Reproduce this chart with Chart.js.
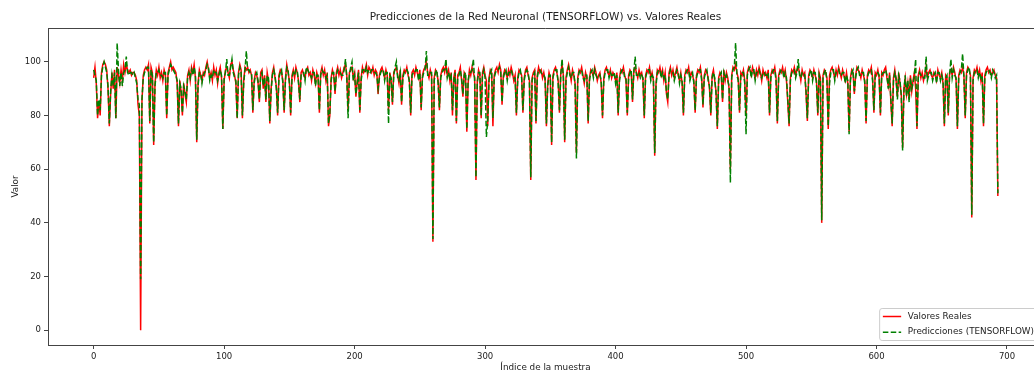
<!DOCTYPE html>
<html><head><meta charset="utf-8">
<script src="https://cdn.jsdelivr.net/npm/chart.js@4.4.1/dist/chart.umd.min.js"></script>
<style>
html,body{margin:0;padding:0;overflow:hidden;background:#fff;width:1034px;height:374px}
#wrap{position:absolute;left:0;top:0;width:1043px;height:374px}
</style>
</head><body><div id="wrap"><canvas id="c" width="1043" height="374"></canvas></div>
<script>
const titleText = "Predicciones de la Red Neuronal (TENSORFLOW) vs. Valores Reales";
const xLabel = "Índice de la muestra";
const yLabel = "Valor";
const seriesNames = ["Valores Reales", "Predicciones (TENSORFLOW)"];
const xTicks = [0, 100, 200, 300, 400, 500, 600, 700];
const yTicks = [0, 20, 40, 60, 80, 100];

const realValues = [
94,98,92,79,85,80,96,99,100,99,97,90,76,88,96,90,97,79,98,95,
92,97,93,99,96,99,97,96,97,95,96,96,95,93,84,80,0,85,95,97,
98,97,99,77,98,96,69,92,97,95,98,94,96,93,97,95,79,96,98,100,
97,98,97,96,92,76,93,89,80,92,88,85,95,97,93,98,96,99,94,70,
92,97,95,93,96,95,98,100,97,94,96,93,98,95,97,92,96,98,94,75,
93,97,98,96,94,99,100,97,95,92,79,96,99,97,79,93,98,97,98,96,
97,95,81,93,96,95,92,85,96,97,90,95,85,96,93,77,90,96,98,94,
91,80,95,97,96,93,81,94,99,96,93,80,95,97,94,98,96,93,85,96,
97,95,94,97,98,95,96,93,97,95,92,96,94,81,96,98,95,97,93,96,
76,80,94,97,95,88,96,98,95,97,94,96,98,99,95,82,96,97,98,94,
96,87,93,97,81,94,98,96,97,99,95,98,97,96,98,95,97,96,88,95,
97,98,96,94,97,95,82,96,93,84,96,97,98,95,92,97,84,95,97,96,
98,95,93,80,96,97,95,98,96,94,97,82,95,97,98,100,96,94,97,95,
33,94,97,96,93,82,95,97,98,96,99,95,97,93,96,80,94,97,77,95,
96,98,93,87,96,95,74,92,97,95,98,96,94,56,93,97,95,79,96,98,
95,93,76,94,97,96,76,95,97,98,96,99,97,84,95,97,96,94,97,95,
98,96,93,95,80,94,97,96,95,81,94,97,98,95,93,56,94,96,97,77,
95,98,96,97,94,96,93,76,92,96,94,69,95,97,98,96,93,81,96,99,
95,70,94,97,99,96,93,97,95,92,66,94,97,96,98,95,92,96,94,77,
94,97,96,95,98,96,93,95,96,92,79,94,97,98,96,95,97,94,96,95,
93,96,80,94,97,96,98,95,93,80,95,97,96,85,97,98,96,94,97,95,
96,93,79,95,97,96,98,94,96,93,65,92,97,96,98,95,97,93,96,88,
85,96,98,95,97,94,96,98,95,93,96,92,80,95,97,96,98,94,96,95,
93,81,95,97,96,98,94,83,95,97,96,94,90,80,95,97,93,89,75,94,
96,95,85,97,93,96,94,90,60,95,98,97,99,96,94,81,96,95,97,93,
80,96,98,97,95,98,96,94,97,95,98,96,93,97,95,96,94,97,80,95,
97,96,98,94,77,95,97,96,98,95,97,93,85,76,94,97,96,98,95,97,
98,96,93,97,95,96,88,78,95,97,96,94,97,95,93,80,96,94,40,95,
97,96,94,75,95,97,98,96,94,97,95,98,96,94,97,95,93,96,92,74,
94,97,96,88,95,98,97,96,94,97,95,93,77,95,97,96,98,94,81,96,
95,97,94,80,96,95,97,98,94,91,96,85,76,94,97,93,87,96,92,88,
68,90,94,88,92,86,95,89,93,96,90,75,95,97,94,96,93,95,98,94,
96,97,95,94,96,95,93,97,95,94,96,92,76,95,94,80,96,97,95,98,
96,93,75,95,97,96,98,95,79,96,98,97,95,42,94,97,96,98,95,97,
93,96,76,95,97,98,96,97,95,96,97,95,94,50
];

const predValues = [
97,95,93,80,86,82,95,98,100,98,96,91,77,89,95,91,96,79,107,97,
91,96,91,96,97,102,96,95,96,96,95,96,94,92,86,84,19,86,94,96,
97,98,98,78,97,95,70,91,96,96,97,95,95,94,96,96,80,95,97,99,
98,97,96,95,93,77,92,90,81,91,89,86,94,96,94,97,95,98,95,71,
91,96,96,92,95,96,97,99,98,93,95,94,97,96,96,93,95,97,95,75,
94,96,101,95,95,98,101,96,94,93,79,95,98,96,80,92,97,104,97,97,
96,96,82,92,95,96,93,86,95,96,91,94,86,95,94,78,89,95,97,95,
90,81,94,96,97,92,82,93,98,97,92,81,94,96,95,97,97,92,86,95,
96,96,93,98,97,96,95,94,96,96,91,95,95,82,95,97,96,96,94,95,
77,81,93,96,96,89,95,97,96,96,95,95,97,101,94,79,95,98,100,93,
95,88,92,96,82,93,97,97,96,98,96,97,96,97,97,96,96,95,90,94,
96,97,97,93,96,96,77,95,94,85,95,98,100,94,93,96,85,94,96,97,
97,96,92,81,95,96,96,97,97,93,96,83,94,96,97,104,95,95,96,96,
34,93,96,97,92,83,94,96,97,97,101,94,96,94,95,82,93,96,78,94,
95,97,94,88,95,96,75,93,96,96,97,101,93,57,92,96,96,80,95,97,
94,72,78,93,96,97,79,94,96,97,97,98,96,85,94,96,97,93,96,96,
97,95,94,94,81,93,96,97,94,82,93,96,97,96,92,57,93,95,96,78,
94,97,97,96,95,95,94,77,91,95,95,70,94,96,97,97,92,82,95,101,
94,71,93,96,98,95,94,96,96,91,64,93,96,97,97,94,93,95,95,78,
93,96,97,94,97,95,94,94,95,93,80,93,96,97,97,94,96,95,95,96,
92,95,81,93,96,97,97,94,94,81,94,96,97,86,96,102,95,95,96,94,
95,94,80,94,96,97,97,93,95,94,66,91,96,97,97,94,96,94,95,89,
86,95,97,96,96,93,95,97,96,92,95,93,81,94,96,97,97,93,95,96,
92,82,94,96,97,97,93,84,94,96,97,93,91,81,94,96,94,88,76,93,
95,96,86,96,94,95,93,91,55,94,97,98,107,95,93,82,95,96,96,92,
73,95,97,98,94,97,97,93,96,96,97,95,94,96,96,95,95,96,81,94,
96,97,97,93,78,94,96,97,97,94,96,94,86,77,93,96,97,97,94,96,
101,95,94,96,96,95,89,79,94,96,97,93,96,96,92,81,95,93,41,94,
96,97,93,76,92,96,97,97,93,96,96,97,95,95,96,96,92,95,93,73,
93,96,97,89,94,97,98,95,95,96,96,92,78,94,96,97,97,93,82,95,
96,96,95,81,95,96,96,97,95,90,95,86,77,93,96,94,86,95,93,87,
67,89,95,87,93,85,94,90,92,95,101,76,94,96,95,95,94,94,102,93,
95,96,96,93,95,96,92,96,96,93,95,93,77,94,95,81,95,101,94,97,
95,94,76,94,96,97,103,94,80,95,97,98,94,43,93,96,97,97,94,96,
94,95,77,94,96,97,97,96,94,97,96,94,95,51
];

Chart.defaults.font.family = '"DejaVu Sans", sans-serif';
Chart.defaults.color = '#222';

const legendPlugin = {
  id: 'mplLegend',
  afterDraw(chart) {
    const ctx = chart.ctx, a = chart.chartArea;
    ctx.save();
    // top & right spines
    ctx.strokeStyle = '#444';
    ctx.lineWidth = 1;
    ctx.beginPath();
    ctx.moveTo(a.left, a.top + 0.5);
    ctx.lineTo(a.right - 0.5, a.top + 0.5);
    ctx.lineTo(a.right - 0.5, a.bottom);
    ctx.stroke();
    // legend
    ctx.font = '8.8px "DejaVu Sans"';
    const ds = chart.data.datasets;
    let maxW = 0;
    ds.forEach(d => { maxW = Math.max(maxW, ctx.measureText(d.label).width); });
    const w = 3.7 + 18.3 + 6.7 + maxW + 4;
    const h = 32;
    const right = a.right - 5, bottom = a.bottom - 5;
    const left = right - w, top = bottom - h;
    ctx.beginPath();
    if (ctx.roundRect) ctx.roundRect(left + 0.5, top + 0.5, w, h, 2.5); else ctx.rect(left + 0.5, top + 0.5, w, h);
    ctx.fillStyle = 'rgba(255,255,255,0.8)';
    ctx.fill();
    ctx.strokeStyle = '#cccccc';
    ctx.lineWidth = 1;
    ctx.stroke();
    ds.forEach((d, i) => {
      const y = top + 8.5 + i * 15.7;
      ctx.beginPath();
      ctx.strokeStyle = d.borderColor;
      ctx.lineWidth = d.borderWidth;
      ctx.setLineDash(d.borderDash || []);
      ctx.moveTo(left + 3.7, y);
      ctx.lineTo(left + 22, y);
      ctx.stroke();
      ctx.setLineDash([]);
      ctx.fillStyle = '#222';
      ctx.textBaseline = 'middle';
      ctx.textAlign = 'left';
      ctx.fillText(d.label, left + 28.7, y);
    });
    ctx.restore();
  }
};

const tickGrid = {display: true, drawOnChartArea: false, drawTicks: true, tickLength: 4, color: '#444', lineWidth: 1};

new Chart(document.getElementById('c'), {
  type: 'line',
  data: {
    datasets: [
      {
        label: seriesNames[0],
        data: realValues.map((v, i) => ({x: i, y: v})),
        borderColor: '#ff0000',
        borderWidth: 1.5,
        pointRadius: 0,
        tension: 0,
        fill: false,
        order: 1
      },
      {
        label: seriesNames[1],
        data: predValues.map((v, i) => ({x: i, y: v})),
        borderColor: '#008000',
        borderWidth: 1.5,
        borderDash: [5.5, 2.4],
        pointRadius: 0,
        tension: 0,
        fill: false,
        order: 0
      }
    ]
  },
  options: {
    responsive: false,
    animation: false,
    devicePixelRatio: 1,
    layout: {padding: 0},
    plugins: {
      legend: {display: false},
      tooltip: {enabled: false},
      title: {
        display: true,
        text: titleText,
        fullSize: false,
        color: '#222',
        font: {size: 10.5, weight: 'normal'},
        padding: {top: 11, bottom: 4.4}
      }
    },
    scales: {
      x: {
        type: 'linear',
        min: -35,
        max: 727.6,
        afterBuildTicks: s => { s.ticks = xTicks.map(v => ({value: v})); },
        afterFit: s => { s.height = 29; },
        ticks: {font: {size: 8.5}, color: '#222', padding: 3, maxRotation: 0, autoSkip: false},
        grid: tickGrid,
        border: {display: true, color: '#444', width: 1},
        title: {display: true, text: xLabel, color: '#222', font: {size: 8.8}, padding: {top: 0, bottom: 1}}
      },
      y: {
        type: 'linear',
        min: -5.5,
        max: 112.6,
        afterBuildTicks: s => { s.ticks = yTicks.map(v => ({value: v})); },
        afterFit: s => { s.width = 48; },
        ticks: {font: {size: 8.5}, color: '#222', padding: 3},
        grid: tickGrid,
        border: {display: true, color: '#444', width: 1},
        title: {display: true, text: yLabel, color: '#222', font: {size: 8.8}, padding: {top: 10.7, bottom: 0}}
      }
    }
  },
  plugins: [legendPlugin]
});
</script>
</body></html>
